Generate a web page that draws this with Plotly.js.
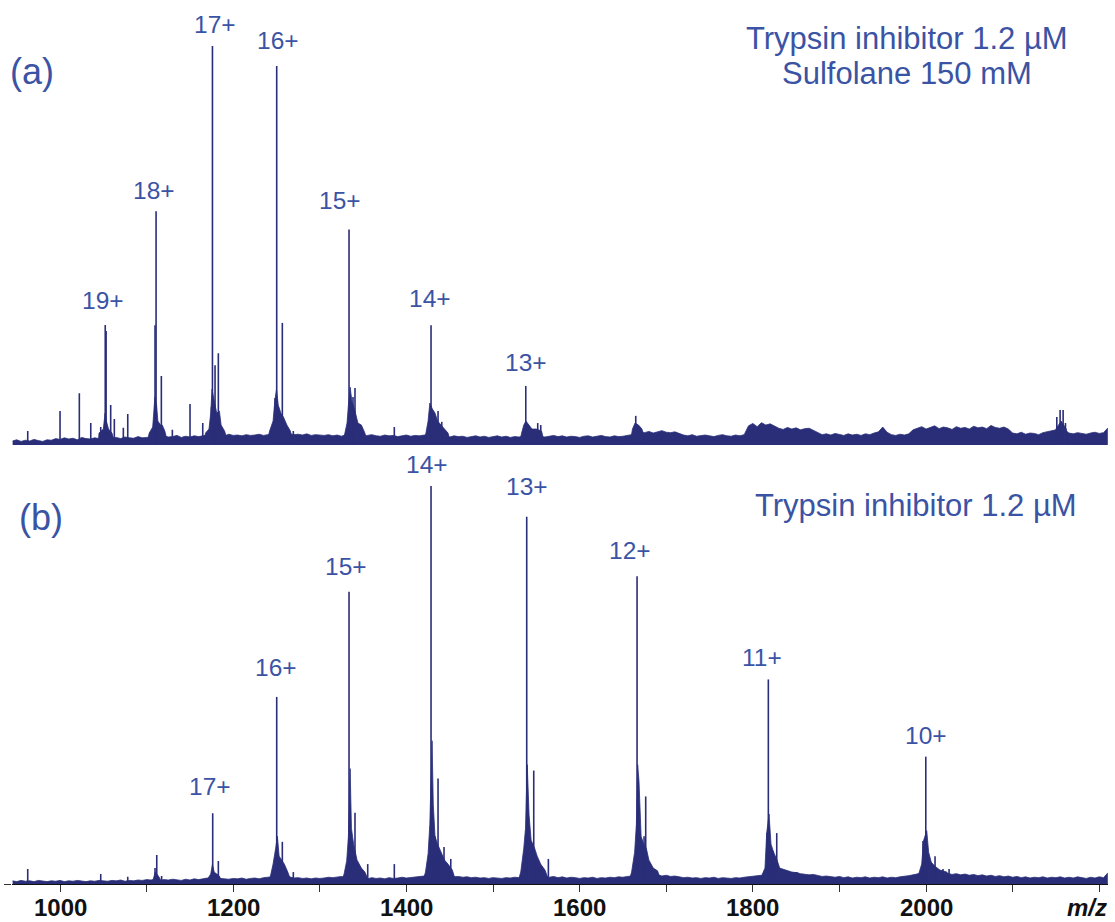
<!DOCTYPE html>
<html>
<head>
<meta charset="utf-8">
<script src="https://cdn.plot.ly/plotly-3.0.1.min.js"></script>
<style>html,body{margin:0;padding:0;background:#fff;}#chart{width:1115px;height:922px;}</style>
</head>
<body>
<div id="chart"></div>
<script>
// ---------- DATA ----------
// noise floor, one value every 5 m/z from 945 to 2210 (relative intensity, %)
const noiseStart = 945, noiseStep = 5;
const noiseA = [
 1.0,1.3,0.9,1.2,1.0,1.4,1.1,0.9,1.3,1.2,
 1.6,1.4,1.8,1.5,1.7,1.3,1.9,1.6,1.5,1.8,1.6,
 1.8,2.0,1.7,1.9,1.6,2.0,1.8,1.7,2.1,1.8,1.9,
 2.0,2.2,1.9,2.3,2.0,2.1,2.4,1.9,2.2,2.0,2.3,2.1,
 2.3,2.5,2.2,2.6,2.4,2.3,2.7,2.4,2.5,2.3,2.6,2.4,2.5,2.7,2.4,2.6,
 2.6,2.9,2.7,3.0,2.8,2.6,2.7,2.5,2.8,2.4,2.6,2.5,
 2.4,2.6,2.3,2.5,2.2,2.6,2.4,2.3,2.5,2.2,2.4,2.6,2.3,2.2,2.5,2.3,2.4,2.1,2.3,2.5,2.2,2.4,2.3,2.5,
 2.6,2.8,2.5,2.4,2.2,2.0,2.3,2.1,2.2,1.9,2.1,2.3,2.0,2.2,1.9,2.1,2.3,2.0,2.2,1.9,2.1,2.0,2.2,2.4,2.2,
 2.3,2.1,2.0,2.2,2.4,2.1,2.3,2.0,2.2,2.1,1.9,2.2,2.3,2.0,2.2,2.4,2.1,2.0,2.3,2.1,2.2,2.4,2.6,
 3.2,3.5,3.1,3.4,3.0,3.3,3.6,3.2,3.1,3.3,
 2.8,2.5,2.3,2.6,2.2,2.4,2.5,2.3,2.1,2.4,2.6,2.3,2.2,2.5,2.3,2.6,
 4.8,5.4,4.6,5.6,5.0,5.3,4.7,
 4.2,3.9,4.4,4.0,4.3,3.8,4.1,4.2,3.7,
 3.0,2.6,2.8,2.5,2.9,2.6,2.4,2.8,2.5,2.7,2.4,2.8,2.6,3.0,3.3,
 4.5,3.2,2.6,2.4,2.7,2.5,2.8,
 3.8,4.2,4.6,4.0,4.4,4.8,4.1,4.5,4.3,3.9,4.6,4.2,4.4,4.0,4.7,4.3,4.5,4.1,4.9,4.4,4.2,4.5,4.0,
 3.0,2.8,3.2,2.7,3.0,2.9,2.6,3.1,3.3,3.6,
 3.8,3.5,3.9,
 3.0,2.8,3.1,2.9,2.7,3.0,3.2,2.9,3.1,4.3
];
const noiseB = [
 0.8,0.6,0.9,0.7,0.8,0.6,0.9,0.7,0.6,0.8,
 0.7,0.9,0.6,0.8,0.7,0.9,0.8,0.6,0.8,0.7,0.9,
 0.8,0.7,0.9,0.8,1.0,0.7,0.9,0.8,1.0,0.9,1.1,
 1.0,1.2,0.9,1.1,1.0,1.2,1.1,0.9,1.2,1.0,1.3,1.1,
 1.3,1.5,1.2,1.6,1.4,1.3,1.2,1.4,1.3,1.5,1.2,1.4,1.5,1.3,1.6,1.7,
 1.8,2.0,1.7,1.6,1.8,1.5,1.6,1.4,1.5,1.3,1.5,1.4,
 1.5,1.7,1.6,1.8,1.9,1.7,1.5,1.6,1.4,1.5,1.3,1.6,1.4,1.5,1.3,1.6,1.4,1.5,1.7,1.5,1.6,1.8,1.9,2.0,
 2.2,2.5,2.3,2.1,2.4,2.0,1.8,1.9,1.7,1.8,1.6,1.7,1.5,1.6,1.4,1.6,1.5,1.4,1.6,1.5,1.7,1.6,1.8,2.0,2.2,
 2.1,1.9,1.8,1.7,1.9,1.6,1.8,1.5,1.7,1.6,1.4,1.6,1.5,1.7,1.4,1.6,1.5,1.7,1.6,1.8,1.7,1.9,2.0,
 2.4,2.6,2.3,2.5,2.2,2.4,2.0,2.2,1.9,2.0,
 1.8,1.6,1.7,1.5,1.6,1.4,1.6,1.5,1.7,1.4,1.6,1.5,1.4,1.6,1.5,1.7,
 1.8,1.9,2.0,2.2,2.4,2.6,2.8,
 3.0,2.8,3.1,2.7,2.9,2.6,2.5,2.3,2.4,
 2.1,1.9,2.0,1.8,1.7,1.9,1.6,1.8,1.5,1.7,1.6,1.8,1.5,1.7,1.6,
 1.8,1.5,1.7,1.6,1.8,1.9,2.1,
 2.3,2.5,2.8,3.0,2.7,2.6,2.8,2.5,2.7,2.4,2.6,2.3,2.5,2.2,2.4,2.1,2.3,2.0,2.2,1.9,2.1,1.8,2.0,
 1.7,1.9,1.6,1.8,1.5,1.7,1.6,1.8,1.5,1.7,
 1.6,1.8,1.5,
 1.7,1.5,1.8,1.6,1.4,1.7,1.5,1.8,1.6,2.8
];

// sharp peak sticks (m/z, relative intensity)
const sticksA_mz  = [962.7,1000,1022.3,1035.5,1047,1052.2,1053.2,1058.5,1062.7,1073.1,1078.2,
                     1109.7,1110.9,1117,1129.7,1150.1,1164.8,1174.9,1176.0,1179,1182.8,
                     1248.3,1250.2,1256.7,1269.4,1333.7,1338.3,1340.6,1386,
                     1428.4,1436.5,1440.8,1537.8,1551.6,1555.1,1664.8,2151,2154.8,2158.3,2161];
const sticksA_int = [3.5,8.5,13,5.5,4.5,30.1,28.6,10,6.5,4.3,7.8,
                     30,58.6,17.3,3.8,10.3,5.5,9.5,100,20,23,
                     11.8,95,30.6,3.5,54,12,14.3,4.5,
                     30,8.5,5.8,14.8,5.5,5,7.3,7,8.8,8.8,5.5];
const sticksB_mz  = [962.7,1047,1078.2,1109.7,1111.7,1117.3,1176.3,1182.8,
                     1250.2,1256.7,1269.4,1333.7,1340.6,1355.3,1386,
                     1428.4,1433,1436.5,1443.4,1451.2,1538.9,1547,1563.9,
                     1666.3,1674.4,1676.3,1816.4,1817.9,1823.3,1827.6,
                     1996.5,1999.7,2010.4,2019.6,2026.6];
const sticksB_int = [3.8,2.5,1.8,4,7.3,2,17.8,5.8,
                     47,10.6,3,73.4,17.9,5,5,
                     100,12,26.5,9.3,6.3,92.3,28.5,6.3,
                     77.3,12,22,12.8,51.4,8.3,12.8,
                     10.8,32,7,3.8,3.8];

// broad peak bases (m/z, relative intensity), each base opens and closes at 0
const baseA_mz  = [1044,1045,1050,1052,1053.5,1056,1060,1064,
                   1100,1103,1107,1109.5,1111.5,1113,1116,1118,1121,1125,
                   1165,1168,1172,1174,1175.5,1177,1179,1181,1184,1186,1190,1195,
                   1238,1242,1246,1248,1250,1252,1255,1258,1262,1266,1270,
                   1326,1329,1331.4,1333,1335,1337,1340,1344,1348,1352,1356,
                   1420,1423,1425,1427,1430,1433,1436,1440,1444,1448,1452,
                   1530,1533,1535.5,1538,1541,1545,1550,1556,1560,
                   1658,1661,1664,1668,1672,1676,
                   2148,2150,2156,2162,2164];
const baseA_int = [0,3,4,8,6,4,3,0,
                   0,3,4.5,12,10,6,5,5,3.5,0,
                   0,3,4,8,14,12,10,8,8.5,5,3.5,0,
                   0,3.5,6,11,14,10,8,7,5,3.5,0,
                   0,3.5,5.5,10,14.5,11,9,5.5,5,3,0,
                   0,3.5,6,10.5,9,8,6,5,4,3,0,
                   0,3,5,6,5,4,4,3.5,0,
                   0,4,5.5,5,4,0,
                   0,4,6,4,0];
const baseB_mz  = [1106,1108,1110,1112,1115,1118,
                   1168,1171,1174,1176,1178,1181,1184,1188,
                   1240,1243,1246,1249,1251,1253,1256,1259,1263,1268,
                   1324,1328,1331,1333,1335,1336.5,1339,1343,1348,1352,1358,
                   1418,1422,1425,1427,1429.6,1431,1433,1436,1440,1444,1448,1453,1458,
                   1528,1532,1535.5,1537.5,1539.5,1541.6,1544,1548,1551,1555,1560,1566,
                   1656,1660,1663.5,1665.5,1667,1668.5,1671,1674,1677,1680,1685,1690,1695,
                   1808,1811,1814,1816,1818.7,1821,1824,1828,1831,1838,1845,1852,1858,
                   1988,1992,1995,1997,2000.8,2003,2006,2010,2016,2024,2030];
const baseB_int = [0,1.5,3,2.5,1.5,0,
                   0,1.5,2.5,5,3,2.5,2,0,
                   0,2,5,9,12,7,6,5,3,0,
                   0,2.5,5.8,12,29,14,10,6,4,3,0,
                   0,3,7.6,15,36,20,12,10,8,6,5,3.5,0,
                   0,3,9,14,30,17.4,11,9,7,5,3.5,0,
                   0,3,8,15,30,26,12,10,9,6,4,3.3,0,
                   0,2.5,4,12.8,17.6,10,8,6,4,3.5,3,2.8,0,
                   0,3,5,10.8,13.4,8,5.5,4.5,3.5,3,0];

// charge-state labels
const labelsA_text = ['19+','18+','17+','16+','15+','14+','13+'];
const labelsA_mz   = [1049.7,1108.5,1179,1251.7,1323.3,1427.3,1538.1];
const labelsA_y    = [36.3,63.9,105.5,101.5,61.4,36.8,20.8];
const labelsB_text = ['17+','16+','15+','14+','13+','12+','11+','10+'];
const labelsB_mz   = [1173.2,1249.4,1330.3,1423.8,1539.3,1658.2,1810.6,2000];
const labelsB_y    = [24.6,54.3,79.9,105.5,100,83.9,56.8,37.4];

const tickVals   = [1000,1100,1200,1300,1400,1500,1600,1700,1800,1900,2000,2100,2200];
const labelVals  = [1000,1200,1400,1600,1800,2000];
const labelTexts = ['1000','1200','1400','1600','1800','2000'];

// ---------- DRAWING ----------
const specColor = '#2a2e78';
const labelColor = '#3b53a4';
const font = 'Liberation Sans, Arial, Helvetica, sans-serif';

function gridX(arr){ return arr.map((_, i) => noiseStart + i*noiseStep); }
function sticks(mz, inten){
  const x = [], y = [];
  mz.forEach((m, i) => { x.push(m, m, null); y.push(0, inten[i], null); });
  return {x, y};
}
function panelTraces(noise, bmz, bint, smz, sint, yax){
  const s = sticks(smz, sint);
  return [
    {type:'scatter', mode:'lines', x: gridX(noise), y: noise, xaxis:'x', yaxis: yax,
     fill:'tozeroy', fillcolor: specColor, line:{color: specColor, width:0.8}, hoverinfo:'skip'},
    {type:'scatter', mode:'lines', x: bmz, y: bint, xaxis:'x', yaxis: yax,
     fill:'tozeroy', fillcolor: specColor, line:{color: specColor, width:0.8}, hoverinfo:'skip'},
    {type:'scatter', mode:'lines', x: s.x, y: s.y, xaxis:'x', yaxis: yax,
     connectgaps:false, line:{color: specColor, width:1.6}, hoverinfo:'skip'}
  ];
}

const data = [
  ...panelTraces(noiseA, baseA_mz, baseA_int, sticksA_mz, sticksA_int, 'y'),
  ...panelTraces(noiseB, baseB_mz, baseB_int, sticksB_mz, sticksB_int, 'y2')
];

const annotations = [];
labelsA_text.forEach((t, i) => annotations.push({text: t, x: labelsA_mz[i], y: labelsA_y[i], xref:'x', yref:'y',
  showarrow:false, xanchor:'center', yanchor:'middle', font:{family: font, size:24.5, color: labelColor}}));
labelsB_text.forEach((t, i) => annotations.push({text: t, x: labelsB_mz[i], y: labelsB_y[i], xref:'x', yref:'y2',
  showarrow:false, xanchor:'center', yanchor:'middle', font:{family: font, size:24.5, color: labelColor}}));
labelVals.forEach((v, i) => annotations.push({text: '<b>' + labelTexts[i] + '</b>', x: v, y: 1 - 907/922,
  xref:'x', yref:'paper', showarrow:false, xanchor:'center', yanchor:'middle',
  font:{family: font, size:24, color:'#111'}}));
function paperText(t, px, py, size, color){
  annotations.push({text: t, x: px/1115, y: 1 - py/922, xref:'paper', yref:'paper', showarrow:false,
    xanchor:'center', yanchor:'middle', font:{family: font, size: size, color: color}});
}
paperText('(a)', 32, 72, 36, labelColor);
paperText('Trypsin inhibitor 1.2 µM', 907, 38, 31, labelColor);
paperText('Sulfolane 150 mM', 907, 73, 31, labelColor);
paperText('(b)', 41, 517, 36, labelColor);
paperText('Trypsin inhibitor 1.2 µM', 916, 505, 31, labelColor);
paperText('<b><i>m/z</i></b>', 1087, 907, 24, '#111');

const layout = {
  width: 1115, height: 922,
  margin: {l:0, r:0, t:0, b:0},
  paper_bgcolor: '#fff', plot_bgcolor: '#fff',
  showlegend: false,
  xaxis: {domain:[12.4/1115, 1107.9/1115], range:[945, 2210], anchor:'y2',
    showline:true, linecolor:'#111', linewidth:1, ticks:'outside', ticklen:7, tickwidth:1, tickcolor:'#333',
    tickvals: tickVals, showticklabels:false, showgrid:false, zeroline:false},
  yaxis: {domain:[1-445/922, 1-10/922], range:[0, 109.02], visible:false, fixedrange:true},
  yaxis2: {domain:[1-884/922, 1-455/922], range:[0, 107.79], anchor:'x',
    showline:false, showgrid:false, zeroline:false, ticks:'outside', ticklen:7, tickcolor:'#333',
    tickvals:[0], showticklabels:false},
  annotations: annotations
};

Plotly.newPlot('chart', data, layout, {staticPlot:true, displayModeBar:false});
</script>
</body>
</html>
